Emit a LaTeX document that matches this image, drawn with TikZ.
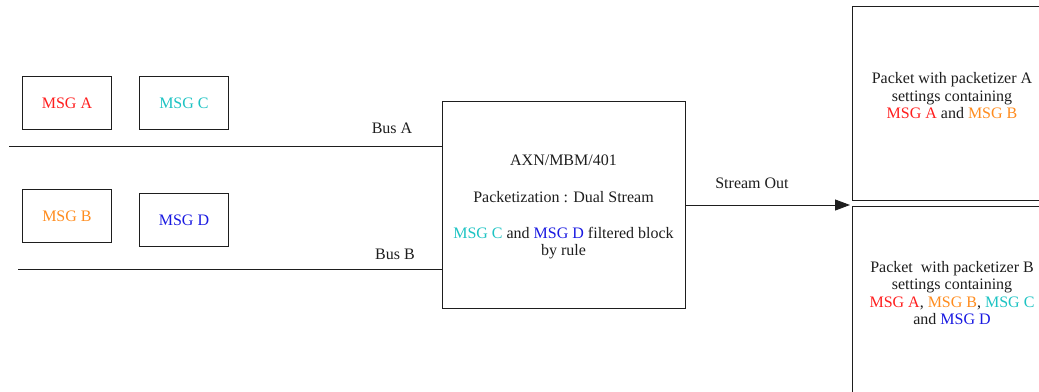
\documentclass[tikz,border=0pt]{standalone}
\usepackage{fontspec}
\setmainfont{Liberation Serif}
\usetikzlibrary{arrows.meta}
\definecolor{msga}{RGB}{255,30,30}
\definecolor{msgb}{RGB}{255,140,30}
\definecolor{msgc}{RGB}{30,195,195}
\definecolor{msgd}{RGB}{25,25,225}
\definecolor{ink}{RGB}{30,30,30}
\newcommand{\mA}{\textcolor{msga}{MSG A}}
\newcommand{\mB}{\textcolor{msgb}{MSG B}}
\newcommand{\mC}{\textcolor{msgc}{MSG C}}
\newcommand{\mD}{\textcolor{msgd}{MSG D}}
\begin{document}
\begin{tikzpicture}[x=1pt,y=-1pt,
  every node/.style={font=\rmfamily\fontsize{16}{17.5}\selectfont, text=ink},
  msgbox/.style={draw=ink, line width=0.9pt, minimum width=89pt, minimum height=53pt, anchor=north west, inner sep=0pt},
  block/.style={draw=ink, line width=0.9pt, anchor=north west, inner sep=0pt, align=center},
  bus/.style={draw=ink, line width=0.9pt},
  lbl/.style={inner sep=0pt}]
\useasboundingbox (0,0) rectangle (1039,391);

% message boxes
\node[msgbox] (ma) at (22,76) {\mA};
\node[msgbox] (mc) at (139,76) {\mC};
\node[msgbox] (mb) at (22,189) {\mB};
\node[msgbox] (md) at (139,193) {\mD};

% central processor
\node[block, minimum width=243pt, minimum height=207pt] (proc) at (442,101) {};
\node[lbl] (p1) at (563.5,160) {AXN/MBM/401};
\node[lbl] (p2) at (563.5,197) {Packetization : Dual Stream};
\node[lbl, align=center] (p3) at (563.5,243) {\mC{} and \mD{} filtered block\\by rule};

% output packets
\node[block, minimum width=202pt, minimum height=194pt] (pa) at (852,6) {};
\node[lbl, align=center] (pat) at (952,96) {Packet with packetizer A\\settings containing\\\mA{} and \mB};
\node[block, minimum width=202pt, minimum height=200pt] (pb) at (852,206) {};
\node[lbl, align=center] (pbt) at (952,293) {Packet\ \ with packetizer B\\settings containing\\\mA, \mB, \mC\\and \mD};

% buses
\coordinate (busa) at (9,146);
\coordinate (busb) at (18,269);
\draw[bus] (busa) -- (busa -| proc.west);
\draw[bus] (busb) -- (busb -| proc.west);
\node[lbl] (la) at (392,128) {Bus A};
\node[lbl] (lb) at (395,254) {Bus B};

% stream out
\coordinate (sink) at (850,205);
\draw[bus, -{Triangle[length=15pt,width=11pt]}] (sink -| proc.east) -- (sink);
\node[lbl] (ls) at (752,183) {Stream Out};
\end{tikzpicture}
\end{document}
